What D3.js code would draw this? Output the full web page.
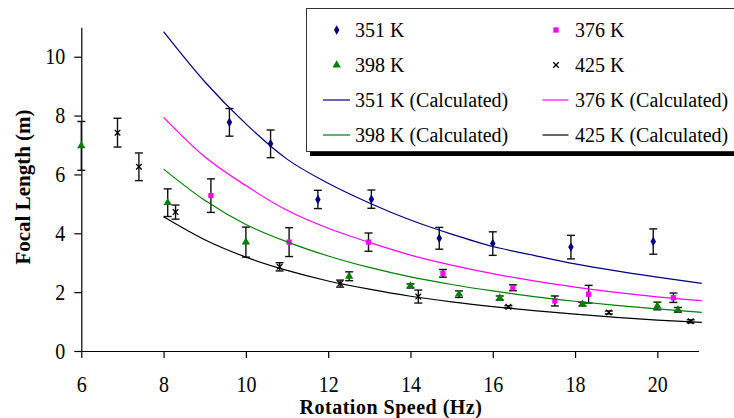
<!DOCTYPE html>
<html>
<head>
<meta charset="utf-8">
<script src="https://cdn.jsdelivr.net/npm/d3@7"></script>
<style>
  html, body { margin: 0; padding: 0; background: #fff; }
  svg { display: block; }
</style>
</head>
<body>
<svg id="chart" width="734" height="418"></svg>
<script>
// Measured focal length vs. rotation speed, one series per temperature
const x351 = [9.6, 10.6, 11.75, 13.05, 14.7, 16.0, 17.9, 19.9];
const y351 = [7.77, 7.04, 5.15, 5.16, 3.83, 3.65, 3.53, 3.72];
const e351 = [0.47, 0.47, 0.31, 0.31, 0.37, 0.40, 0.40, 0.43];

const x376 = [9.15, 11.05, 12.98, 14.79, 16.49, 17.51, 18.33, 20.39];
const y376 = [5.28, 3.70, 3.70, 2.64, 2.15, 1.70, 1.93, 1.81];
const e376 = [0.57, 0.49, 0.31, 0.13, 0.10, 0.17, 0.30, 0.16];

const x398 = [6.0, 8.1, 10.0, 12.51, 14.0, 15.18, 16.17, 18.18, 20.0, 20.5];
const y398 = [6.97, 5.04, 3.70, 2.54, 2.21, 1.93, 1.80, 1.59, 1.53, 1.40];
const e398 = [0.83, 0.47, 0.51, 0.15, 0.07, 0.11, 0.07, 0.06, 0.13, 0.08];

const x425 = [6.88, 7.40, 8.29, 10.82, 12.29, 14.19, 16.38, 18.82, 20.81];
const y425 = [7.42, 6.26, 4.72, 2.86, 2.29, 1.85, 1.50, 1.31, 1.01];
const e425 = [0.49, 0.47, 0.24, 0.14, 0.12, 0.22, 0.04, 0.05, 0.05];

// Calculated focal length curves
const xCalc = [8, 9, 10, 11, 12, 13, 14, 15, 16, 17, 18, 19, 20, 21.08];
const c351 = [10.85, 9.15, 7.72, 6.52, 5.70, 5.03, 4.45, 3.97, 3.55, 3.25, 2.96, 2.72, 2.51, 2.30];
const c376 = [7.94, 6.60, 5.62, 4.78, 4.17, 3.69, 3.26, 2.92, 2.63, 2.38, 2.17, 1.99, 1.84, 1.71];
const c398 = [6.18, 5.12, 4.30, 3.71, 3.23, 2.84, 2.52, 2.26, 2.04, 1.85, 1.69, 1.55, 1.43, 1.31];
const c425 = [4.56, 3.78, 3.19, 2.74, 2.38, 2.10, 1.86, 1.67, 1.51, 1.37, 1.25, 1.14, 1.05, 0.97];

const xTicks = [6, 8, 10, 12, 14, 16, 18, 20];
const yTicks = [0, 2, 4, 6, 8, 10];

const seriesNames = ["351 K", "376 K", "398 K", "425 K"];
const seriesColors = ["#000080", "#ff00ff", "#008000", "#000000"];
const seriesSymbols = [d3.symbolDiamond, d3.symbolSquare, d3.symbolTriangle, d3.symbolX];
const symbolSize = [26, 28, 30, 22];

const FONT = "'Liberation Serif', 'Times New Roman', Times, serif";

const svg = d3.select("#chart");
const x = d3.scaleLinear().domain([6, 21]).range([81.3, 698.5]);
const y = d3.scaleLinear().domain([0, 11]).range([351, 27.3]);

// Axes (tick labels are drawn slightly tall, like the typeface of the original figure)
const xAxis = svg.append("g").attr("transform", `translate(0,${y(0)})`)
  .call(d3.axisBottom(x).tickValues(xTicks).tickSize(7).tickSizeOuter(0));
const yAxis = svg.append("g").attr("transform", `translate(${x(6)},0)`)
  .call(d3.axisLeft(y).tickValues(yTicks).tickSize(7).tickSizeOuter(0));
[xAxis, yAxis].forEach(a => {
  a.attr("font-family", FONT).attr("font-size", 20);
  a.select(".domain").attr("stroke", "#000").attr("stroke-width", 1.2);
  a.selectAll(".tick line").attr("stroke", "#000").attr("stroke-width", 1.2);
  a.selectAll(".tick text").attr("fill", "#000");
});
xAxis.selectAll(".tick text")
  .attr("y", null).attr("dy", null)
  .attr("transform", "translate(0,40.5) scale(1,1.12)");
yAxis.selectAll(".tick text")
  .attr("x", null).attr("dy", null)
  .attr("transform", "translate(-16,7) scale(1,1.12)");

// Axis titles
svg.append("text").attr("x", 391).attr("y", 413.5).attr("text-anchor", "middle")
  .attr("font-family", FONT).attr("font-size", 20).attr("font-weight", "bold")
  .attr("letter-spacing", 0.5)
  .text("Rotation Speed (Hz)");
svg.append("text").attr("transform", "translate(30,187) rotate(-90)").attr("text-anchor", "middle")
  .attr("font-family", FONT).attr("font-size", 21).attr("font-weight", "bold")
  .text("Focal Length (m)");

// Measured points with error bars
const measured = [
  { xs: x351, ys: y351, es: e351 },
  { xs: x376, ys: y376, es: e376 },
  { xs: x398, ys: y398, es: e398 },
  { xs: x425, ys: y425, es: e425 }
];

function drawSymbol(sel, i) {
  const sym = d3.symbol().type(seriesSymbols[i]).size(symbolSize[i]);
  sel.attr("d", sym);
  if (i === 3) {
    sel.attr("fill", "none").attr("stroke", seriesColors[i]).attr("stroke-width", 1.3);
  } else {
    sel.attr("fill", seriesColors[i]);
  }
}

measured.forEach((s, i) => {
  const pts = s.xs.map((xv, k) => ({ x: xv, y: s.ys[k], e: s.es[k] }));
  const g = svg.append("g");
  const eb = g.selectAll("g.eb").data(pts).join("g").attr("class", "eb");
  eb.append("line")
    .attr("x1", d => x(d.x)).attr("x2", d => x(d.x))
    .attr("y1", d => y(d.y - d.e)).attr("y2", d => y(d.y + d.e))
    .attr("stroke", "#111").attr("stroke-width", 1.4);
  [1, -1].forEach(sg => {
    eb.append("line")
      .attr("x1", d => x(d.x) - 4).attr("x2", d => x(d.x) + 4)
      .attr("y1", d => y(d.y + sg * d.e)).attr("y2", d => y(d.y + sg * d.e))
      .attr("stroke", "#111").attr("stroke-width", 1.4);
  });
  g.selectAll("path.pt").data(pts).join("path").attr("class", "pt")
    .attr("transform", d => `translate(${x(d.x)},${y(d.y)})`)
    .call(drawSymbol, i);
});

// Calculated curves
const line = d3.line().x(d => x(d[0])).y(d => y(d[1])).curve(d3.curveMonotoneX);
[c351, c376, c398, c425].forEach((c, i) => {
  svg.append("path").datum(xCalc.map((xv, k) => [xv, c[k]]))
    .attr("d", line).attr("fill", "none")
    .attr("stroke", seriesColors[i]).attr("stroke-width", 1.2);
});

// Legend
const lg = svg.append("g").attr("font-family", FONT).attr("font-size", 20);
lg.append("rect").attr("x", 310).attr("y", 12).attr("width", 440).attr("height", 144).attr("fill", "#000");
lg.append("rect").attr("x", 306.5).attr("y", 8.5).attr("width", 440).attr("height", 143)
  .attr("fill", "#fff").attr("stroke", "#333").attr("stroke-width", 1);

const colX = [336.7, 556];
const lineX = [[323, 350], [542.5, 568.5]];
const textX = [355, 575];
const rowY = [30, 65, 100, 135];

seriesNames.forEach((name, i) => {
  const col = i % 2, row = Math.floor(i / 2);
  lg.append("path")
    .attr("transform", `translate(${colX[col]},${rowY[row]})`)
    .call(drawSymbol, i);
  lg.append("text").attr("x", textX[col]).attr("y", rowY[row] + 7).attr("fill", "#000").text(name);
});
seriesNames.forEach((name, i) => {
  const col = i % 2, row = 2 + Math.floor(i / 2);
  lg.append("line").attr("x1", lineX[col][0]).attr("x2", lineX[col][1])
    .attr("y1", rowY[row]).attr("y2", rowY[row])
    .attr("stroke", seriesColors[i]).attr("stroke-width", 1.2);
  lg.append("text").attr("x", textX[col]).attr("y", rowY[row] + 7).attr("fill", "#000")
    .text(name + " (Calculated)");
});
</script>
</body>
</html>
